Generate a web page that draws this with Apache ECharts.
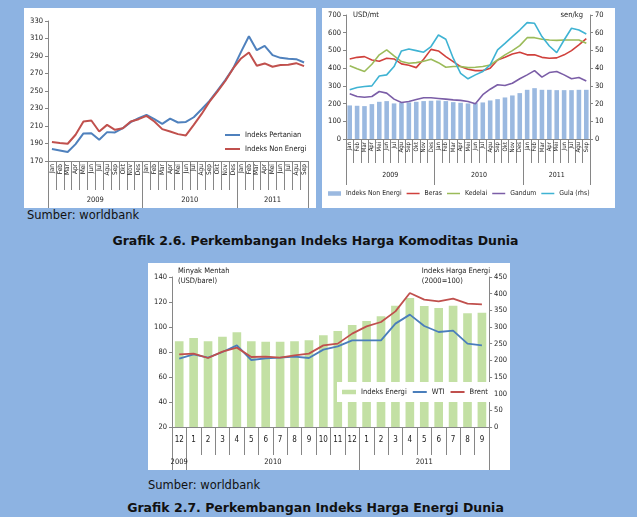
<!DOCTYPE html>
<html>
<head>
<meta charset="utf-8">
<script src="https://cdn.jsdelivr.net/npm/echarts@6/dist/echarts.min.js"></script>
<style>
  body { margin: 0; width: 637px; height: 517px; background: #8db3e2; position: relative; overflow: hidden; font-family: 'DejaVu Sans', sans-serif; }
  .panel { position: absolute; background: #fff; }
  .txt { position: absolute; color: #111; white-space: nowrap; line-height: 1; }
</style>
</head>
<body>
<div id="c1" class="panel" style="left:24px;top:8px;width:292px;height:200px"></div>
<div id="c2" class="panel" style="left:322px;top:8px;width:293px;height:200px"></div>
<div id="c3" class="panel" style="left:148px;top:263px;width:362px;height:207px"></div>

<div class="txt" style="left:27px;top:210px;font-size:11.5px">Sumber: worldbank</div>
<div class="txt" style="left:0;width:631px;text-align:center;top:235px;font-size:12.5px;font-weight:bold">Grafik 2.6. Perkembangan Indeks Harga Komoditas Dunia</div>
<div class="txt" style="left:148px;top:480px;font-size:11.5px">Sumber: worldbank</div>
<div class="txt" style="left:0;width:631px;text-align:center;top:502px;font-size:12.5px;font-weight:bold">Grafik 2.7. Perkembangan Indeks Harga Energi Dunia</div>

<script>
// ---- data ----
const periods = ['Jan','Feb','Mar','Apr','Mei','Jun','Jul','Agu','Sep','Okt','Nov','Des',
                 'Jan','Feb','Mar','Apr','Mei','Jun','Jul','Agu','Sep','Okt','Nov','Des',
                 'Jan','Feb','Mar','Apr','Mei','Jun','Jul','Agu','Sep'];
const periodYears = ['2009', '2010', '2011'];
const periodSpans = [12, 12, 9];

// grafik 2.6 kiri
const agriIndex = [183.7,182.1,180.2,189.3,201.5,201.8,194.3,203.0,202.6,207.5,214.4,218.9,
                   222.7,217.8,212.5,218.5,214.0,214.7,220.0,229.1,238.6,250.4,262.5,275.8,
                   294.7,312.6,296.6,301.6,291.0,287.9,286.8,286.4,282.6];
const nonEnergyIndex = [191.6,190.5,189.7,200.0,215.1,216.3,203.7,211.3,205.6,207.5,215.1,217.8,
                        221.6,215.1,206.4,203.7,200.7,199.2,211.3,223.8,237.9,249.2,261.4,275.8,
                        287.2,294.0,278.8,281.5,277.7,279.6,280.0,281.8,278.4];

// grafik 2.6 kanan
const nonEnergyBar = [189.5,187.6,185.7,197.0,210.0,213.9,200.8,204.5,206.4,210.0,214.0,215.8,
                      217.6,214.0,208.0,204.5,200.8,202.6,206.4,217.6,225.0,234.5,245.8,259.0,
                      277.7,287.0,277.7,277.7,275.8,275.8,275.8,277.7,277.7];
const ricePrice = [452,461,465,446,439,456,452,424,416,403,450,506,
                   497,465,437,409,394,386,386,400,446,461,480,490,
                   475,476,461,456,458,475,499,531,567];
const soyPrice = [413,396,381,422,475,503,469,437,428,431,439,450,
                  431,405,409,409,403,405,409,418,446,475,499,527,
                  572,572,563,559,557,559,559,559,540];
const wheatPrice = [255,240,236,240,268,259,225,206,212,223,233,233,
                    229,225,221,218,212,199,250,281,306,302,315,340,
                    362,386,349,375,381,362,340,347,328];
const sugarPrice = [27.8,29.1,29.6,30.0,35.6,36.2,40.9,49.7,50.8,49.9,49.0,52.2,
                    58.7,56.3,45.6,37.1,34.0,36.2,38.1,41.8,50.3,54.0,57.8,61.5,
                    65.7,65.3,57.8,52.5,48.8,55.9,62.5,61.5,59.3];

// grafik 2.7
const energyMonths = ['12','1','2','3','4','5','6','7','8','9','10','11','12','1','2','3','4','5','6','7','8','9'];
const energyYears = ['2009', '2010', '2011'];
const energySpans = [1, 12, 9];
const energyIndex = [257,267,257,271,284,257,256,256,257,260,275,288,306,318,332,364,387,363,357,364,341,343];
const wtiPrice = [74.7,78.1,75.5,80.0,85.3,73.6,74.9,75.5,76.3,75.2,81.9,84.5,89.3,89.3,89.3,102.7,109.9,100.8,96.0,97.1,86.7,85.3];
const brentPrice = [78.1,78.7,75.2,80.3,83.5,76.0,76.3,75.5,77.3,78.7,85.3,86.7,94.7,100.5,104.0,112.5,127.2,121.9,120.5,122.7,118.7,118.1];

// ---- style ----
const AX = '#868686';
const FONT = "'Liberation Sans Narrow', 'DejaVu Sans Condensed', sans-serif";
const LINE_ICON = 'path://M0,0h0.01v0.01h-0.01z M0,3h15v2h-15z M0,8h0.01v-0.01h-0.01z';
const BAR_ICON = 'path://M0,0h0.01v0.01h-0.01z M0,1.5h15v5h-15z M0,8h0.01v-0.01h-0.01z';

// sumbu x dua tingkat: bulan + tahun
function buildXAxes(cats, years, spans, cfg) {
  const starts = [];
  let total = 0;
  spans.forEach(s => { starts.push(total); total += s; });
  const mids = spans.map((s, i) => starts[i] + s / 2);
  return [
    {
      type: 'category', data: cats, position: 'bottom',
      axisLine: { show: true, onZero: false, lineStyle: { color: AX } },
      axisTick: { show: true, interval: 0, length: cfg.tickLen, lineStyle: { color: AX } },
      axisLabel: { interval: 0, rotate: cfg.rotate, fontSize: cfg.labelSize, margin: cfg.labelMargin, color: '#222', fontFamily: FONT }
    },
    {
      type: 'category', data: cats, position: 'bottom',
      axisLine: { show: false, onZero: false },
      axisLabel: { show: false },
      axisTick: { show: true, interval: (i) => starts.includes(i), length: cfg.divLen, lineStyle: { color: AX } }
    },
    {
      type: 'value', min: 0, max: total, interval: 0.5, position: 'bottom',
      axisLine: { show: false, onZero: false }, axisTick: { show: false }, splitLine: { show: false },
      axisLabel: {
        margin: cfg.yearMargin, fontSize: cfg.yearSize, color: '#222', fontFamily: FONT,
        showMinLabel: true, showMaxLabel: true,
        formatter: (v) => { const k = mids.indexOf(v); return k < 0 ? '' : years[k]; }
      }
    }
  ];
}

function yAxisOf(min, max, interval, position) {
  return {
    type: 'value', min: min, max: max, interval: interval, position: position,
    axisLine: { show: true, lineStyle: { color: AX } },
    axisTick: { show: true, length: 3, lineStyle: { color: AX } },
    axisLabel: { fontSize: 7.5, color: '#222', margin: 5, fontFamily: FONT },
    splitLine: { show: false }
  };
}

function lineSeries(name, data, color, axisIdx, width) {
  return {
    type: 'line', name: name, data: data, yAxisIndex: axisIdx || 0,
    symbol: 'none', lineStyle: { width: width || 2, color: color }, itemStyle: { color: color }, z: 3
  };
}

// ---- grafik 2.6 kiri ----
const chart1 = echarts.init(document.getElementById('c1'));
chart1.setOption({
  animation: false,
  grid: { left: 24, right: 8, top: 13, bottom: 47 },
  xAxis: buildXAxes(periods, periodYears, periodSpans,
    { tickLen: 29, divLen: 47, rotate: 90, labelSize: 6.5, labelMargin: 3, yearMargin: 35, yearSize: 7.5 }),
  yAxis: yAxisOf(170, 330, 20, 'left'),
  legend: {
    orient: 'vertical', left: 201, top: 123, itemWidth: 15, itemHeight: 8, itemGap: 6, padding: 0,
    textStyle: { fontSize: 7.5, color: '#222', fontFamily: FONT },
    data: [{ name: 'Indeks Pertanian', icon: LINE_ICON }, { name: 'Indeks Non Energi', icon: LINE_ICON }]
  },
  series: [
    lineSeries('Indeks Pertanian', agriIndex, '#4f81bd'),
    lineSeries('Indeks Non Energi', nonEnergyIndex, '#c0504d')
  ]
});

// ---- grafik 2.6 kanan ----
const chart2 = echarts.init(document.getElementById('c2'));
chart2.setOption({
  animation: false,
  grid: { left: 24, right: 25, top: 7, bottom: 69 },
  xAxis: buildXAxes(periods, periodYears, periodSpans,
    { tickLen: 24, divLen: 46, rotate: 90, labelSize: 6, labelMargin: 3, yearMargin: 33, yearSize: 7 }),
  yAxis: [yAxisOf(0, 700, 100, 'left'), yAxisOf(0, 70, 10, 'right')],
  graphic: [
    { type: 'text', left: 31, top: 3, style: { text: 'USD/mt', fontSize: 7.5, fill: '#222', fontFamily: FONT } },
    { type: 'text', right: 32, top: 3, style: { text: 'sen/kg', fontSize: 7.5, fill: '#222', fontFamily: FONT } }
  ],
  legend: {
    left: 6, right: 0, top: 182, itemWidth: 13, itemHeight: 8, itemGap: 5, padding: 0,
    textStyle: { fontSize: 6.8, color: '#222', fontFamily: FONT },
    data: [
      { name: 'Indeks Non Energi', icon: BAR_ICON },
      { name: 'Beras', icon: LINE_ICON },
      { name: 'Kedelai', icon: LINE_ICON },
      { name: 'Gandum', icon: LINE_ICON },
      { name: 'Gula (rhs)', icon: LINE_ICON }
    ]
  },
  series: [
    { type: 'bar', name: 'Indeks Non Energi', data: nonEnergyBar, barWidth: '62%', itemStyle: { color: '#9bb9e0' }, z: 2 },
    lineSeries('Beras', ricePrice, '#d0413c', 0, 1.6),
    lineSeries('Kedelai', soyPrice, '#9bbb59', 0, 1.6),
    lineSeries('Gandum', wheatPrice, '#7b5ea7', 0, 1.6),
    lineSeries('Gula (rhs)', sugarPrice, '#3fb3d3', 1, 1.6)
  ]
});

// ---- grafik 2.7 ----
const chart3 = echarts.init(document.getElementById('c3'));
chart3.setOption({
  animation: false,
  grid: { left: 24, right: 16, top: 14, bottom: 43 },
  xAxis: buildXAxes(energyMonths, energyYears, energySpans,
    { tickLen: 28, divLen: 43, rotate: 0, labelSize: 8, labelMargin: 9, yearMargin: 31, yearSize: 7.5 }),
  yAxis: [yAxisOf(20, 140, 20, 'left'), yAxisOf(0, 450, 50, 'right')],
  graphic: [
    { type: 'text', left: 30, top: 3, style: { text: 'Minyak Mentah\n(USD/barel)', fontSize: 7.5, lineHeight: 10, fill: '#222', align: 'center', fontFamily: FONT } },
    { type: 'text', right: 20, top: 3, style: { text: 'Indeks Harga Energi\n(2000=100)', fontSize: 7.5, lineHeight: 10, fill: '#222', align: 'center', fontFamily: FONT } }
  ],
  legend: {
    left: 189, top: 119, itemWidth: 14, itemHeight: 8, itemGap: 6, padding: [6, 5],
    backgroundColor: '#fff',
    textStyle: { fontSize: 7.5, color: '#222', fontFamily: FONT },
    data: [
      { name: 'Indeks Energi', icon: BAR_ICON },
      { name: 'WTI', icon: LINE_ICON },
      { name: 'Brent', icon: LINE_ICON }
    ]
  },
  series: [
    { type: 'bar', name: 'Indeks Energi', data: energyIndex, yAxisIndex: 1, barWidth: '60%', itemStyle: { color: '#c3e0a4' }, z: 1 },
    lineSeries('WTI', wtiPrice, '#4a7ebb', 0, 1.8),
    lineSeries('Brent', brentPrice, '#c0504d', 0, 1.8)
  ]
});
</script>
</body>
</html>
